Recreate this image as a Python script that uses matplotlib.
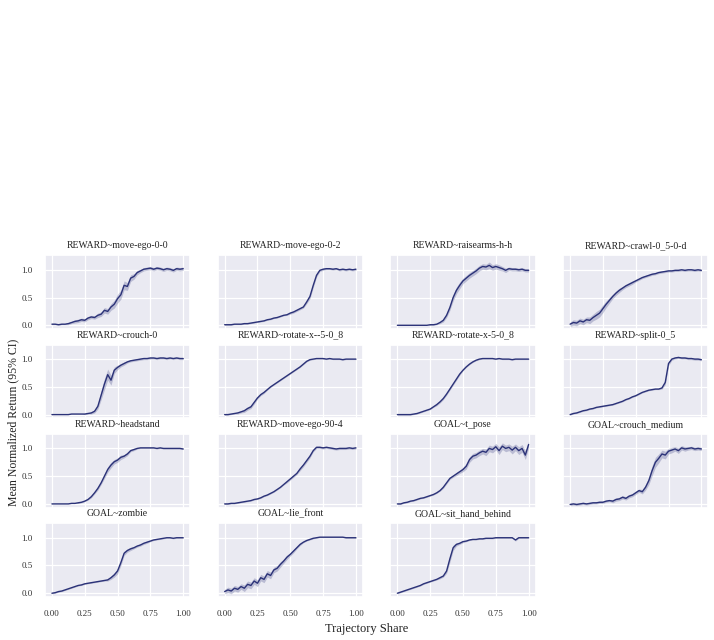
import matplotlib
matplotlib.use("Agg")
import matplotlib.pyplot as plt
import seaborn as sns

# trajectory share (x) shared by every panel
share = [0.0, 0.025, 0.05, 0.075, 0.1, 0.125, 0.15, 0.175, 0.2, 0.225,
         0.25, 0.275, 0.3, 0.325, 0.35, 0.375, 0.4, 0.425, 0.45, 0.475,
         0.5, 0.525, 0.55, 0.575, 0.6, 0.625, 0.65, 0.675, 0.7, 0.725,
         0.75, 0.775, 0.8, 0.825, 0.85, 0.875, 0.9, 0.925, 0.95, 0.975, 1.0]

titles = [
    "REWARD~move-ego-0-0", "REWARD~move-ego-0-2", "REWARD~raisearms-h-h", "REWARD~crawl-0_5-0-d",
    "REWARD~crouch-0", "REWARD~rotate-x--5-0_8", "REWARD~rotate-x-5-0_8", "REWARD~split-0_5",
    "REWARD~headstand", "REWARD~move-ego-90-4", "GOAL~t_pose", "GOAL~crouch_medium",
    "GOAL~zombie", "GOAL~lie_front", "GOAL~sit_hand_behind",
]

move_ego_0_0 = [0.02, 0.02, 0.01, 0.02, 0.02, 0.03, 0.05, 0.07, 0.08, 0.10,
                0.09, 0.13, 0.15, 0.14, 0.18, 0.20, 0.27, 0.25, 0.33, 0.38,
                0.48, 0.55, 0.72, 0.70, 0.85, 0.88, 0.95, 0.98, 1.01, 1.02,
                1.03, 1.01, 1.03, 1.02, 1.00, 1.02, 1.01, 0.99, 1.02, 1.01, 1.02]
move_ego_0_2 = [0.01, 0.01, 0.01, 0.02, 0.02, 0.02, 0.03, 0.03, 0.04, 0.05,
                0.06, 0.07, 0.08, 0.10, 0.11, 0.13, 0.14, 0.16, 0.18, 0.19,
                0.22, 0.24, 0.27, 0.30, 0.33, 0.42, 0.52, 0.72, 0.90, 0.99,
                1.01, 1.02, 1.02, 1.01, 1.02, 1.00, 1.01, 1.00, 1.01, 1.00, 1.01]
raisearms = [0.0, 0.0, 0.0, 0.0, 0.0, 0.0, 0.0, 0.0, 0.0, 0.0,
             0.01, 0.01, 0.02, 0.05, 0.09, 0.18, 0.32, 0.50, 0.63, 0.72,
             0.80, 0.85, 0.90, 0.94, 0.98, 1.03, 1.06, 1.05, 1.08, 1.04,
             1.06, 1.04, 1.02, 0.99, 1.02, 1.01, 1.01, 1.00, 1.01, 0.99, 0.99]
crawl = [0.02, 0.05, 0.04, 0.08, 0.06, 0.10, 0.09, 0.14, 0.18, 0.22,
         0.30, 0.38, 0.45, 0.52, 0.58, 0.63, 0.67, 0.71, 0.74, 0.77,
         0.80, 0.83, 0.86, 0.88, 0.90, 0.92, 0.93, 0.95, 0.96, 0.97,
         0.98, 0.98, 0.99, 0.99, 1.00, 0.99, 1.00, 1.00, 0.99, 1.00, 0.99]
crouch_0 = [0.0, 0.0, 0.0, 0.0, 0.0, 0.0, 0.01, 0.01, 0.01, 0.01,
            0.01, 0.02, 0.03, 0.06, 0.15, 0.35, 0.55, 0.72, 0.62, 0.80,
            0.85, 0.89, 0.92, 0.95, 0.97, 0.98, 0.99, 1.00, 1.01, 1.01,
            1.02, 1.02, 1.01, 1.02, 1.02, 1.01, 1.02, 1.01, 1.02, 1.01, 1.01]
rotate_neg = [0.0, 0.0, 0.01, 0.02, 0.03, 0.05, 0.07, 0.11, 0.14, 0.22,
              0.30, 0.36, 0.40, 0.45, 0.50, 0.54, 0.58, 0.62, 0.66, 0.70,
              0.74, 0.78, 0.82, 0.86, 0.91, 0.96, 0.99, 1.00, 1.01, 1.01,
              1.01, 1.00, 1.01, 1.00, 1.00, 1.00, 0.99, 1.00, 1.00, 1.00, 1.00]
rotate_pos = [0.0, 0.0, 0.0, 0.0, 0.0, 0.01, 0.02, 0.04, 0.06, 0.08,
              0.10, 0.14, 0.18, 0.23, 0.29, 0.37, 0.46, 0.55, 0.64, 0.73,
              0.80, 0.86, 0.91, 0.95, 0.98, 1.00, 1.01, 1.01, 1.01, 1.01,
              1.00, 1.01, 1.00, 1.00, 1.00, 0.99, 1.00, 1.00, 1.00, 1.00, 1.00]
split = [0.0, 0.02, 0.03, 0.05, 0.07, 0.08, 0.10, 0.11, 0.13, 0.14,
         0.15, 0.16, 0.17, 0.18, 0.20, 0.22, 0.24, 0.27, 0.29, 0.32,
         0.34, 0.37, 0.40, 0.42, 0.44, 0.45, 0.46, 0.46, 0.48, 0.58,
         0.92, 1.00, 1.02, 1.03, 1.02, 1.02, 1.01, 1.01, 1.00, 1.00, 0.99]
headstand = [0.0, 0.0, 0.0, 0.0, 0.0, 0.0, 0.01, 0.01, 0.02, 0.03,
             0.05, 0.08, 0.13, 0.20, 0.28, 0.38, 0.50, 0.62, 0.70, 0.76,
             0.79, 0.84, 0.86, 0.90, 0.96, 0.98, 1.00, 1.01, 1.01, 1.01,
             1.01, 1.01, 1.00, 1.01, 1.00, 1.00, 1.00, 1.00, 1.00, 1.00, 0.99]
move_ego_90_4 = [0.0, 0.0, 0.01, 0.01, 0.02, 0.03, 0.04, 0.05, 0.06, 0.08,
                 0.09, 0.11, 0.14, 0.16, 0.19, 0.22, 0.26, 0.30, 0.35, 0.40,
                 0.45, 0.50, 0.55, 0.63, 0.70, 0.78, 0.86, 0.96, 1.02, 1.02,
                 1.01, 1.02, 1.01, 1.00, 0.99, 1.00, 1.00, 1.00, 1.01, 1.00, 1.01]
t_pose = [0.0, 0.0, 0.02, 0.03, 0.05, 0.06, 0.08, 0.10, 0.11, 0.13,
          0.15, 0.17, 0.20, 0.24, 0.30, 0.38, 0.46, 0.50, 0.54, 0.58,
          0.62, 0.68, 0.80, 0.86, 0.88, 0.92, 0.95, 0.93, 1.00, 0.98,
          1.03, 0.96, 1.04, 1.00, 1.02, 0.97, 1.02, 0.96, 1.00, 0.88, 1.07]
crouch_medium = [-0.01, 0.00, -0.01, 0.00, 0.01, 0.00, 0.01, 0.02, 0.02, 0.03,
                 0.03, 0.05, 0.06, 0.05, 0.08, 0.09, 0.12, 0.10, 0.14, 0.16,
                 0.20, 0.24, 0.22, 0.30, 0.42, 0.60, 0.75, 0.82, 0.90, 0.88,
                 0.95, 0.97, 0.99, 0.96, 1.01, 0.99, 1.00, 1.01, 0.99, 1.00, 0.99]
zombie = [0.0, 0.01, 0.03, 0.04, 0.06, 0.08, 0.10, 0.12, 0.14, 0.15,
          0.17, 0.18, 0.19, 0.20, 0.21, 0.22, 0.23, 0.24, 0.28, 0.33,
          0.40, 0.55, 0.72, 0.77, 0.80, 0.82, 0.85, 0.87, 0.90, 0.92,
          0.94, 0.96, 0.97, 0.98, 0.99, 1.00, 1.00, 0.99, 1.00, 1.00, 1.00]
lie_front = [0.03, 0.06, 0.04, 0.09, 0.07, 0.12, 0.09, 0.16, 0.14, 0.22,
             0.18, 0.28, 0.25, 0.35, 0.32, 0.42, 0.45, 0.52, 0.58, 0.65,
             0.70, 0.76, 0.82, 0.88, 0.92, 0.95, 0.97, 0.99, 1.00, 1.01,
             1.01, 1.01, 1.01, 1.01, 1.01, 1.01, 1.01, 1.00, 1.00, 1.00, 1.00]
sit_hand_behind = [0.0, 0.02, 0.04, 0.06, 0.08, 0.10, 0.12, 0.14, 0.17, 0.19,
                   0.21, 0.23, 0.25, 0.28, 0.31, 0.40, 0.62, 0.82, 0.88, 0.90,
                   0.93, 0.94, 0.96, 0.97, 0.97, 0.98, 0.98, 0.99, 0.99, 0.99,
                   1.00, 1.00, 1.00, 1.00, 1.00, 1.00, 0.96, 1.00, 1.00, 1.00, 1.00]

# half width of the 95% CI band, per panel
ci_move_ego_0_0 = [0.01, 0.01, 0.01, 0.01, 0.01, 0.02, 0.02, 0.03, 0.03, 0.03,
                   0.03, 0.03, 0.03, 0.03, 0.04, 0.04, 0.05, 0.05, 0.06, 0.07,
                   0.08, 0.08, 0.08, 0.07, 0.06, 0.05, 0.04, 0.03, 0.03, 0.03,
                   0.03, 0.03, 0.03, 0.03, 0.03, 0.03, 0.03, 0.03, 0.03, 0.03, 0.03]
ci_move_ego_0_2 = [0.01, 0.01, 0.01, 0.01, 0.01, 0.01, 0.01, 0.01, 0.01, 0.01,
                   0.01, 0.01, 0.01, 0.01, 0.01, 0.01, 0.01, 0.01, 0.01, 0.01,
                   0.02, 0.02, 0.02, 0.02, 0.02, 0.03, 0.04, 0.04, 0.03, 0.02,
                   0.02, 0.02, 0.02, 0.02, 0.02, 0.02, 0.02, 0.02, 0.02, 0.02, 0.02]
ci_raisearms = [0.0, 0.0, 0.0, 0.0, 0.0, 0.0, 0.0, 0.0, 0.0, 0.0,
                0.01, 0.01, 0.01, 0.02, 0.03, 0.04, 0.05, 0.06, 0.06, 0.06,
                0.05, 0.05, 0.05, 0.05, 0.05, 0.05, 0.05, 0.05, 0.06, 0.05,
                0.05, 0.05, 0.04, 0.04, 0.03, 0.03, 0.03, 0.03, 0.03, 0.03, 0.03]
ci_crawl = [0.04, 0.05, 0.05, 0.05, 0.05, 0.05, 0.06, 0.06, 0.07, 0.07,
            0.07, 0.06, 0.05, 0.04, 0.04, 0.04, 0.03, 0.03, 0.03, 0.03,
            0.02, 0.02, 0.02, 0.02, 0.02, 0.02, 0.02, 0.02, 0.02, 0.02,
            0.02, 0.02, 0.02, 0.02, 0.02, 0.02, 0.02, 0.02, 0.02, 0.02, 0.02]
ci_crouch_0 = [0.0, 0.0, 0.0, 0.0, 0.0, 0.0, 0.0, 0.0, 0.0, 0.0,
               0.01, 0.01, 0.02, 0.03, 0.05, 0.08, 0.10, 0.10, 0.09, 0.06,
               0.04, 0.03, 0.03, 0.02, 0.02, 0.02, 0.02, 0.02, 0.02, 0.02,
               0.02, 0.02, 0.02, 0.02, 0.02, 0.02, 0.02, 0.02, 0.02, 0.02, 0.02]
ci_rotate_neg = [0.01, 0.01, 0.01, 0.01, 0.02, 0.02, 0.03, 0.03, 0.03, 0.03,
                 0.02, 0.02, 0.02, 0.01, 0.01, 0.01, 0.01, 0.01, 0.01, 0.01,
                 0.01, 0.01, 0.01, 0.01, 0.01, 0.01, 0.01, 0.01, 0.01, 0.01,
                 0.01, 0.01, 0.01, 0.01, 0.01, 0.01, 0.01, 0.01, 0.01, 0.01, 0.01]
ci_rotate_pos = [0.01, 0.01, 0.01, 0.01, 0.01, 0.01, 0.01, 0.01, 0.01, 0.01,
                 0.01, 0.01, 0.02, 0.02, 0.02, 0.02, 0.02, 0.02, 0.02, 0.02,
                 0.01, 0.01, 0.01, 0.01, 0.01, 0.01, 0.01, 0.01, 0.01, 0.01,
                 0.01, 0.01, 0.01, 0.01, 0.01, 0.01, 0.01, 0.01, 0.01, 0.01, 0.01]
ci_split = [0.01, 0.01, 0.01, 0.01, 0.01, 0.01, 0.01, 0.01, 0.01, 0.01,
            0.01, 0.01, 0.01, 0.01, 0.01, 0.01, 0.01, 0.01, 0.01, 0.01,
            0.01, 0.01, 0.01, 0.01, 0.01, 0.01, 0.01, 0.01, 0.02, 0.04,
            0.04, 0.02, 0.02, 0.02, 0.02, 0.02, 0.02, 0.02, 0.02, 0.02, 0.02]
ci_headstand = [0.0, 0.0, 0.0, 0.0, 0.0, 0.0, 0.0, 0.0, 0.01, 0.01,
                0.01, 0.01, 0.02, 0.02, 0.03, 0.03, 0.04, 0.05, 0.05, 0.04,
                0.04, 0.04, 0.03, 0.03, 0.02, 0.02, 0.01, 0.01, 0.01, 0.01,
                0.01, 0.01, 0.01, 0.01, 0.01, 0.01, 0.01, 0.01, 0.01, 0.01, 0.01]
ci_move_ego_90_4 = [0.01, 0.01, 0.01, 0.01, 0.01, 0.01, 0.01, 0.01, 0.01, 0.01,
                    0.01, 0.01, 0.01, 0.01, 0.01, 0.01, 0.01, 0.01, 0.01, 0.02,
                    0.02, 0.02, 0.02, 0.03, 0.03, 0.03, 0.03, 0.02, 0.02, 0.02,
                    0.02, 0.02, 0.02, 0.02, 0.02, 0.02, 0.02, 0.02, 0.02, 0.02, 0.02]
ci_t_pose = [0.01, 0.01, 0.01, 0.01, 0.01, 0.01, 0.01, 0.01, 0.01, 0.01,
             0.01, 0.01, 0.01, 0.01, 0.02, 0.02, 0.02, 0.02, 0.03, 0.03,
             0.04, 0.05, 0.05, 0.05, 0.05, 0.05, 0.05, 0.06, 0.06, 0.06,
             0.06, 0.07, 0.06, 0.06, 0.06, 0.07, 0.06, 0.07, 0.07, 0.08, 0.06]
ci_crouch_medium = [0.02, 0.02, 0.02, 0.02, 0.02, 0.02, 0.02, 0.02, 0.02, 0.02,
                    0.02, 0.02, 0.02, 0.03, 0.03, 0.03, 0.03, 0.03, 0.03, 0.03,
                    0.03, 0.03, 0.04, 0.05, 0.07, 0.09, 0.09, 0.08, 0.07, 0.07,
                    0.05, 0.05, 0.04, 0.05, 0.04, 0.04, 0.03, 0.03, 0.03, 0.03, 0.03]
ci_zombie = [0.01, 0.01, 0.01, 0.01, 0.01, 0.01, 0.01, 0.01, 0.01, 0.01,
             0.01, 0.01, 0.01, 0.01, 0.01, 0.01, 0.01, 0.02, 0.03, 0.04,
             0.05, 0.05, 0.04, 0.03, 0.03, 0.02, 0.02, 0.02, 0.02, 0.02,
             0.01, 0.01, 0.01, 0.01, 0.01, 0.01, 0.01, 0.01, 0.01, 0.01, 0.01]
ci_lie_front = [0.04, 0.05, 0.05, 0.05, 0.05, 0.05, 0.06, 0.06, 0.06, 0.06,
                0.06, 0.06, 0.06, 0.06, 0.06, 0.05, 0.05, 0.05, 0.04, 0.04,
                0.03, 0.03, 0.02, 0.02, 0.01, 0.01, 0.01, 0.01, 0.01, 0.01,
                0.01, 0.01, 0.01, 0.01, 0.01, 0.01, 0.01, 0.01, 0.01, 0.01, 0.01]
ci_sit_hand_behind = [0.01, 0.01, 0.01, 0.01, 0.01, 0.01, 0.01, 0.01, 0.01, 0.01,
                      0.01, 0.01, 0.01, 0.02, 0.02, 0.04, 0.06, 0.05, 0.03, 0.02,
                      0.02, 0.01, 0.01, 0.01, 0.01, 0.01, 0.01, 0.01, 0.01, 0.01,
                      0.01, 0.01, 0.01, 0.01, 0.01, 0.01, 0.02, 0.01, 0.01, 0.01, 0.01]

means = [move_ego_0_0, move_ego_0_2, raisearms, crawl, crouch_0, rotate_neg,
         rotate_pos, split, headstand, move_ego_90_4, t_pose, crouch_medium,
         zombie, lie_front, sit_hand_behind]
cis = [ci_move_ego_0_0, ci_move_ego_0_2, ci_raisearms, ci_crawl, ci_crouch_0,
       ci_rotate_neg, ci_rotate_pos, ci_split, ci_headstand, ci_move_ego_90_4,
       ci_t_pose, ci_crouch_medium, ci_zombie, ci_lie_front, ci_sit_hand_behind]

sns.set_theme(style="darkgrid")
plt.rcParams["font.family"] = ["Liberation Serif", "DejaVu Serif"]

LINE = "#2b3278"

fig, axes = plt.subplots(4, 4, figsize=(7.14, 6.4), dpi=100, sharex=True, sharey=True)
fig.subplots_adjust(left=0.063, right=0.992, top=0.601, bottom=0.067,
                    wspace=0.19, hspace=0.21)

for k, ax in enumerate(axes.flat):
    if k >= len(titles):
        ax.axis("off")
        continue
    lo = [m - c for m, c in zip(means[k], cis[k])]
    hi = [m + c for m, c in zip(means[k], cis[k])]
    ax.fill_between(share, lo, hi, color=LINE, alpha=0.25, linewidth=0)
    ax.plot(share, means[k], color=LINE, linewidth=1.0)
    ax.set_title(titles[k], fontsize=7, pad=5, color="#222222")
    ax.set_xticks([0.0, 0.25, 0.5, 0.75, 1.0])
    ax.set_yticks([0.0, 0.5, 1.0])
    ax.tick_params(labelsize=6.5, pad=3, colors="#333333")
    ax.grid(True, color="white", linewidth=0.9)
    if k // 4 < 3:
        ax.tick_params(labelbottom=False)

axes[0, 0].set_xlim(-0.053, 1.053)
axes[0, 0].set_ylim(-0.07, 1.26)
axes[0, 0].xaxis.set_major_formatter(matplotlib.ticker.FormatStrFormatter("%.2f"))
axes[0, 0].yaxis.set_major_formatter(matplotlib.ticker.FormatStrFormatter("%.1f"))

fig.text(0.513, 0.008, "Trajectory Share", ha="center", va="bottom", fontsize=9, color="#222222")
fig.text(0.01, 0.34, "Mean Normalized Return (95% CI)", rotation=90,
         ha="left", va="center", fontsize=8.5, color="#222222")

fig.savefig("out.png", dpi=100)
